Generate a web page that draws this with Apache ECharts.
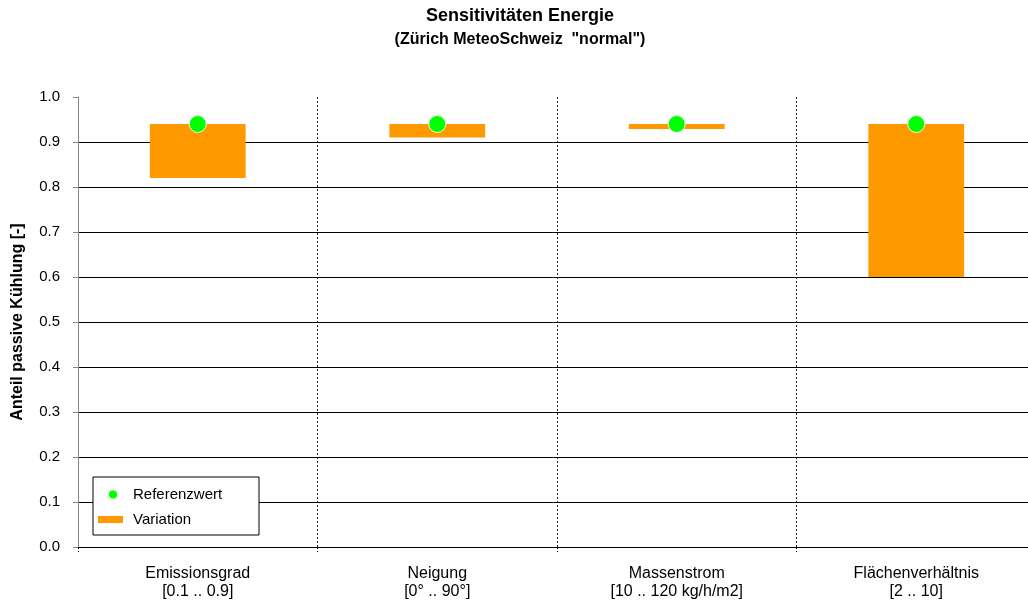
<!DOCTYPE html>
<html>
<head>
<meta charset="utf-8">
<script src="https://cdn.jsdelivr.net/npm/echarts@6/dist/echarts.min.js"></script>
<style>
html, body { margin: 0; padding: 0; background: #fff; }
#main { width: 1028px; height: 606px; }
</style>
</head>
<body>
<div id="main"></div>
<script>
// parameter names and their ranges
var parameters = ['Emissionsgrad', 'Neigung', 'Massenstrom', 'Flächenverhältnis'];
var ranges = ['[0.1 .. 0.9]', '[0° .. 90°]', '[10 .. 120 kg/h/m2]', '[2 .. 10]'];
// Anteil passive Kühlung
var refValues = [0.94, 0.94, 0.94, 0.94];
var varMin = [0.82, 0.91, 0.929, 0.60];
var varMax = [0.94, 0.94, 0.94, 0.94];
var yTicks = [0, 0.1, 0.2, 0.3, 0.4, 0.5, 0.6, 0.7, 0.8, 0.9, 1.0];

var fontName = 'Liberation Sans, Arial, sans-serif';
var categories = [];
var varDelta = [];
for (var i = 0; i < parameters.length; i++) {
    categories.push(parameters[i] + '\n' + ranges[i]);
    varDelta.push(+(varMax[i] - varMin[i]).toFixed(4));
}
// no gridline at the top (1.0)
var gridColors = [];
for (var i = 0; i < yTicks.length; i++) {
    gridColors.push(i == yTicks.length - 1 ? 'rgba(0,0,0,0)' : '#000');
}

var chart = echarts.init(document.getElementById('main'));
var option = {
    backgroundColor: '#fff',
    animation: false,
    textStyle: { fontFamily: fontName },
    title: {
        text: 'Sensitivitäten Energie',
        subtext: '(Zürich MeteoSchweiz  "normal")',
        left: 515,
        top: 2,
        textAlign: 'center',
        itemGap: 7,
        textStyle: { fontFamily: fontName, fontSize: 18, fontWeight: 'bold', color: '#000' },
        subtextStyle: { fontFamily: fontName, fontSize: 16, fontWeight: 'bold', color: '#000' }
    },
    graphic: [{
        type: 'rect',
        z: 3,
        shape: { x: 93, y: 477, width: 166, height: 58 },
        style: { fill: '#fff', stroke: '#000', lineWidth: 1 }
    }],
    legend: [{
        data: ['Referenzwert'],
        left: 102,
        top: 482,
        z: 5,
        itemWidth: 20,
        itemHeight: 10,
        textStyle: { fontFamily: fontName, fontSize: 15, color: '#000', padding: [0, 0, 0, 5] }
    }, {
        data: [{ name: 'Variation', icon: 'rect' }],
        left: 93,
        top: 507,
        z: 5,
        itemWidth: 25,
        itemHeight: 7,
        textStyle: { fontFamily: fontName, fontSize: 15, color: '#000', padding: [0, 0, 0, 5] }
    }],
    grid: { left: 78, right: -8, top: 97, bottom: 59, outerBoundsMode: 'none', containLabel: false },
    xAxis: {
        type: 'category',
        data: categories,
        axisLine: { lineStyle: { color: '#000', width: 1 } },
        axisTick: { show: true, length: 5, lineStyle: { color: '#000', type: [2, 2] } },
        axisLabel: { fontFamily: fontName, fontSize: 16, color: '#000', lineHeight: 18, margin: 18 },
        splitLine: { show: true, lineStyle: { color: '#222', width: 1, type: [2, 2] } }
    },
    yAxis: {
        type: 'value',
        min: 0,
        max: 1,
        interval: 0.1,
        name: 'Anteil passive Kühlung [-]',
        nameLocation: 'middle',
        nameGap: 52,
        nameTextStyle: { fontFamily: fontName, fontSize: 16, fontWeight: 'bold', color: '#000' },
        axisLine: { show: true, lineStyle: { color: '#888', width: 1 } },
        axisTick: { show: true, length: 5, lineStyle: { color: '#888' } },
        axisLabel: {
            fontFamily: fontName, fontSize: 15, color: '#000', margin: 18,
            formatter: function (v) { return v.toFixed(1); }
        },
        splitLine: { show: true, lineStyle: { color: gridColors, width: 1 } }
    },
    series: [{
        name: 'base',
        type: 'bar',
        stack: 'var',
        barWidth: '40%',
        silent: true,
        itemStyle: { color: 'rgba(0,0,0,0)' },
        data: varMin
    }, {
        name: 'Variation',
        type: 'bar',
        stack: 'var',
        barWidth: '40%',
        itemStyle: { color: '#FF9900' },
        data: varDelta
    }, {
        name: 'Referenzwert',
        type: 'scatter',
        symbol: 'circle',
        symbolSize: 17,
        z: 5,
        itemStyle: { color: '#00FF00', borderColor: '#e8ffe0', borderWidth: 1, opacity: 1 },
        data: refValues
    }]
};
chart.setOption(option);
</script>
</body>
</html>
